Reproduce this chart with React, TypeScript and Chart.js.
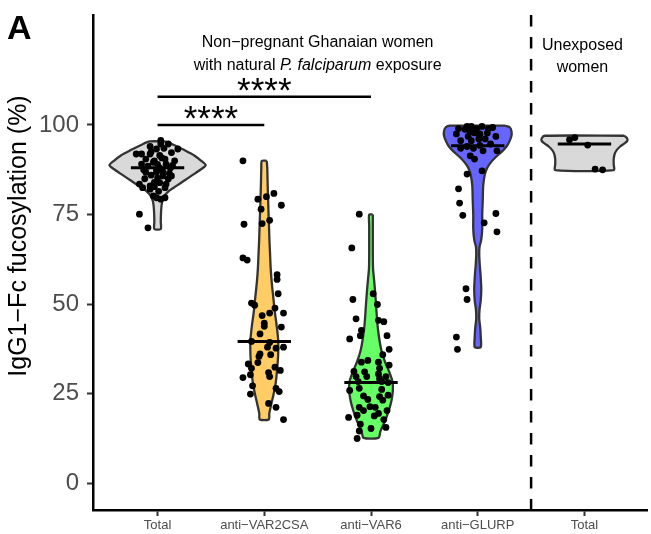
import React, { useEffect, useRef } from 'react';
import { Chart, registerables } from 'chart.js';

Chart.register(...registerables);

const FONT = "'Liberation Sans', Arial, Helvetica, sans-serif";

// ---- categories & axis ----
const categories = ['Total', 'anti−VAR2CSA', 'anti−VAR6', 'anti−GLURP', 'Total'];
const yTicks = [0, 25, 50, 75, 100];
const medians = [88.1, 39.6, 28.1, 94.2, 94.7];
const violinFills = ['#D9D9D9', '#FFCC66', '#66FF66', '#6666FF', '#D9D9D9'];

// ---- violin density profiles (levels in %, half-widths in category units) ----
const totalLevels = [95.4, 94.5, 93, 91.5, 90, 88.8, 87.5, 86, 84.5, 83, 81.5, 80, 78.5, 76, 73, 71];
const totalWidths = [0.074, 0.149, 0.251, 0.344, 0.409, 0.451, 0.4, 0.326, 0.251, 0.177, 0.102, 0.06, 0.042, 0.033, 0.03, 0.03];
const var2Levels = [90, 88, 84, 80, 76, 72, 68, 64, 60, 56, 52, 48, 44, 40, 36, 32, 28, 25, 22, 19.5, 17.8];
const var2Widths = [0.023, 0.028, 0.031, 0.035, 0.039, 0.044, 0.048, 0.054, 0.06, 0.07, 0.084, 0.098, 0.116, 0.13, 0.13, 0.121, 0.107, 0.088, 0.065, 0.047, 0.042];
const var6Levels = [75, 72, 68, 64, 60, 57, 54, 50, 46, 43, 40, 37, 34, 31, 28.5, 26, 23, 20, 17, 14.5, 12.7];
const var6Widths = [0.017, 0.017, 0.017, 0.017, 0.019, 0.028, 0.037, 0.047, 0.056, 0.065, 0.079, 0.098, 0.13, 0.172, 0.2, 0.205, 0.191, 0.163, 0.126, 0.088, 0.07];
const glurpLevels = [99.8, 99.3, 98.3, 97, 95.5, 94, 92.5, 91, 89.5, 88, 86, 83, 79, 75, 71, 68, 66, 64, 61, 57.5, 54, 51, 48.5, 46, 43.5, 41, 38];
const glurpWidths = [0.26, 0.302, 0.316, 0.316, 0.298, 0.27, 0.223, 0.167, 0.121, 0.088, 0.065, 0.051, 0.047, 0.042, 0.042, 0.033, 0.017, 0.014, 0.019, 0.028, 0.033, 0.028, 0.017, 0.014, 0.023, 0.028, 0.028];
const unexpLevels = [97, 96.3, 95.5, 94.8, 94, 93, 92, 90.5, 89, 87.4];
const unexpWidths = [0.372, 0.4, 0.4, 0.372, 0.335, 0.302, 0.284, 0.274, 0.274, 0.274];

// ---- individual observations (value %, horizontal jitter in category units) ----
const totalValues = [95.7, 94.7, 94.7, 93.3, 93.3, 91.9, 91.9, 91.9, 92.3, 91.5, 90.5, 90, 89.1, 89.6, 89.1, 88.7, 88.5, 88, 87.5, 87, 86.8, 86.8, 86.5, 86, 85.8, 85.8, 85.2, 85, 84.9, 83.9, 83.5, 84, 83, 82.5, 82.1, 82.5, 80.2, 79.7, 79.3, 79.7, 75.1, 71.3, 90.8, 92.5, 89, 90, 87.5, 83.5, 81.5, 94, 88, 82.8, 93.5, 90.5];
const totalJitter = [0.03, 0.03, 0.1, 0.19, -0.01, -0.2, -0.15, -0.07, 0.13, 0.02, 0.07, -0.03, -0.15, -0.04, 0.08, 0.14, -0.09, 0.02, -0.01, 0.05, -0.11, -0.01, 0.11, -0.06, 0.05, 0.13, 0, -0.12, 0.1, 0.02, -0.17, -0.03, -0.07, -0.14, -0.07, 0.07, -0.04, -0.01, 0.03, 0.07, -0.17, -0.09, 0.04, -0.06, 0, 0.16, -0.13, 0.08, 0.01, -0.07, 0.12, -0.03, 0.06, -0.11];
const var2Values = [90, 80.9, 79.3, 80, 77.6, 76.5, 73.4, 72.5, 72.3, 62.9, 62.3, 58.2, 56.9, 52.9, 50.3, 49.7, 48.9, 47.5, 47.5, 46.8, 44.7, 43.8, 43.6, 41.7, 39.6, 39.3, 38, 37.7, 38, 36.1, 35.4, 35.9, 33.7, 33.3, 32.1, 32.4, 31.5, 30.9, 29.8, 29.5, 30.3, 27.2, 26.5, 25.6, 24.9, 22.3, 21.2, 17.8];
const var2Jitter = [-0.2, 0.09, -0.06, 0.02, 0.16, -0.03, 0.05, -0.02, -0.19, -0.2, -0.16, 0.12, 0.12, 0.13, -0.12, -0.09, 0.1, 0.05, 0.18, -0.02, 0, 0, 0.16, -0.04, -0.12, 0.05, 0.03, 0.11, 0.18, -0.04, -0.05, 0.06, -0.06, -0.15, -0.12, 0.1, 0.15, 0.04, 0.05, -0.2, -0.13, -0.11, 0.11, 0.14, -0.13, 0.04, 0.11, 0.18];
const var6Values = [75.1, 65.7, 52.9, 49.9, 51.3, 45.9, 45.5, 45.1, 42.7, 41.2, 40.3, 41.2, 37.4, 35.9, 33.8, 34.3, 33.8, 33, 31.2, 29.8, 30.5, 29.8, 28.4, 28.4, 28.1, 25.9, 26.5, 26.2, 24.4, 23.4, 24.2, 24.6, 21.2, 20.3, 21.2, 19.5, 20.3, 18.4, 19, 17.8, 16.5, 15.6, 15.3, 14.6, 12.5, 32.1, 18.8, 29.2, 23.2, 29.8, 21.4, 31.1];
const var6Jitter = [-0.11, -0.18, 0.02, 0.06, -0.17, -0.14, 0.07, 0.12, -0.09, -0.1, -0.2, 0.15, 0.17, 0.11, -0.09, -0.03, 0.07, 0.17, -0.16, -0.04, 0.07, 0.14, -0.12, 0.1, 0.16, -0.2, -0.11, 0.1, -0.07, -0.03, 0.08, 0.16, -0.11, -0.07, 0.04, 0.07, 0.15, -0.21, -0.13, 0.12, -0.1, 0.14, 0, -0.11, -0.13, 0.08, 0.03, 0.08, 0.11, -0.14, -0.01, -0.06];
const glurpValues = [99, 99.6, 99.6, 99, 99.6, 99.3, 97.5, 98.1, 97.8, 97.5, 97.8, 96.8, 95.6, 95.6, 96.1, 96.1, 93.5, 93.5, 92.8, 92.8, 91.4, 90.5, 86.3, 87.2, 82.2, 78.2, 74.8, 75.3, 72.7, 70.2, 54.3, 51.3, 40.8, 37.4, 98.8, 99, 96.8, 94.7, 94, 94.3];
const glurpJitter = [-0.18, -0.1, -0.06, -0.01, 0.04, 0.14, -0.2, -0.07, -0.03, 0.02, 0.09, 0.17, -0.16, -0.06, 0.01, 0.07, -0.16, -0.04, 0.05, 0.18, -0.07, -0.03, -0.1, 0.04, -0.18, -0.17, -0.14, 0.17, 0.06, 0.18, -0.11, -0.1, -0.2, -0.19, -0.12, 0.1, -0.09, 0.12, -0.1, 0.02];
const unexpValues = [95.9, 96.5, 94.4, 87.7, 87.5];
const unexpJitter = [-0.14, -0.09, 0.03, 0.1, 0.17];

// ---- significance brackets ----
const sigFrom = [0, 0];
const sigTo = [2, 1];
const sigLevel = [107.9, 100];
const sigText = ['****', '****'];

const profiles = [
  [totalLevels, totalWidths],
  [var2Levels, var2Widths],
  [var6Levels, var6Widths],
  [glurpLevels, glurpWidths],
  [unexpLevels, unexpWidths],
];
const observations = [
  [totalValues, totalJitter],
  [var2Values, var2Jitter],
  [var6Values, var6Jitter],
  [glurpValues, glurpJitter],
  [unexpValues, unexpJitter],
];

const Y_MIN = -7.45;
const Y_MAX = 130.7;
const X_MIN = -0.605;
const X_MAX = 4.586;

function violinOutline(center: number, levels: number[], widths: number[]) {
  const right = levels.map((v, i) => ({ x: center + widths[i], y: v }));
  const left = levels.map((v, i) => ({ x: center - widths[i], y: v })).reverse();
  const pts = [...right, ...left];
  pts.push({ ...pts[0] });
  return pts;
}

const annotPlugin = {
  id: 'annot',
  afterDraw(chart: any) {
    const { ctx } = chart;
    const xs = chart.scales.x;
    const ys = chart.scales.y;
    ctx.save();
    ctx.fillStyle = '#000';
    ctx.textAlign = 'center';
    ctx.textBaseline = 'alphabetic';

    // significance stars
    ctx.font = `35px ${FONT}`;
    sigFrom.forEach((f, i) => {
      const cx = (xs.getPixelForValue(f) + xs.getPixelForValue(sigTo[i])) / 2;
      ctx.fillText(sigText[i], cx, ys.getPixelForValue(sigLevel[i]) + 5);
    });

    // group headers
    ctx.font = `16px ${FONT}`;
    const gx = xs.getPixelForValue(1.5);
    ctx.fillText('Non−pregnant Ghanaian women', gx, 46.5);
    const parts = [
      { t: 'with natural ', it: false },
      { t: 'P. falciparum', it: true },
      { t: ' exposure', it: false },
    ];
    let total = 0;
    parts.forEach((p) => {
      ctx.font = `${p.it ? 'italic ' : ''}16px ${FONT}`;
      total += ctx.measureText(p.t).width;
    });
    let px = gx - total / 2;
    ctx.textAlign = 'left';
    parts.forEach((p) => {
      ctx.font = `${p.it ? 'italic ' : ''}16px ${FONT}`;
      ctx.fillText(p.t, px, 70);
      px += ctx.measureText(p.t).width;
    });
    ctx.textAlign = 'center';
    ctx.font = `16px ${FONT}`;
    const ux = xs.getPixelForValue(4) - 2;
    ctx.fillText('Unexposed', ux, 50);
    ctx.fillText('women', ux, 72);

    // panel letter
    ctx.textAlign = 'left';
    ctx.font = `bold 34px ${FONT}`;
    ctx.fillText('A', 7, 39);

    // y axis title
    ctx.translate(19, 236);
    ctx.rotate(-Math.PI / 2);
    ctx.textAlign = 'center';
    ctx.textBaseline = 'middle';
    ctx.font = `25px ${FONT}`;
    ctx.fillText('IgG1−Fc fucosylation (%)', 0, 0);
    ctx.restore();
  },
};

export default function App() {
  const canvasRef = useRef<HTMLCanvasElement | null>(null);

  useEffect(() => {
    if (!canvasRef.current) return;
    Chart.defaults.font.family = FONT;

    const datasets: any[] = [];
    profiles.forEach(([levels, widths], i) => {
      datasets.push({
        type: 'line',
        data: violinOutline(i, levels, widths),
        backgroundColor: violinFills[i],
        borderColor: '#333333',
        borderWidth: 2.3,
        borderJoinStyle: 'round',
        fill: 'shape',
        tension: 0.25,
        pointRadius: 0,
        order: 30,
      });
    });
    observations.forEach(([vals, jit], i) => {
      datasets.push({
        type: 'line',
        data: vals.map((v, k) => ({ x: i + jit[k], y: v })),
        showLine: false,
        pointRadius: 3.4,
        pointBackgroundColor: '#000',
        pointBorderWidth: 0,
        order: 20,
      });
    });
    medians.forEach((m, i) => {
      datasets.push({
        type: 'line',
        data: [{ x: i - 0.25, y: m }, { x: i + 0.25, y: m }],
        borderColor: '#000',
        borderWidth: 3,
        pointRadius: 0,
        fill: false,
        order: 10,
      });
    });
    sigFrom.forEach((f, i) => {
      datasets.push({
        type: 'line',
        data: [{ x: f, y: sigLevel[i] }, { x: sigTo[i], y: sigLevel[i] }],
        borderColor: '#000',
        borderWidth: 2.5,
        pointRadius: 0,
        fill: false,
        order: 5,
      });
    });
    datasets.push({
      type: 'line',
      data: [{ x: 3.5, y: Y_MAX }, { x: 3.5, y: Y_MIN }],
      borderColor: '#000',
      borderWidth: 2.5,
      borderDash: [11.5, 10.5],
      pointRadius: 0,
      fill: false,
      order: 5,
    });

    const chart = new Chart(canvasRef.current, {
      type: 'line',
      data: { datasets },
      options: {
        animation: false,
        responsive: false,
        events: [],
        layout: { padding: { top: 15, left: 0, right: 0, bottom: 0 } },
        plugins: { legend: { display: false }, tooltip: { enabled: false } },
        scales: {
          x: {
            type: 'linear',
            min: X_MIN,
            max: X_MAX,
            afterBuildTicks: (s: any) => {
              s.ticks = categories.map((_, i) => ({ value: i }));
            },
            afterFit: (s: any) => {
              s.height = 24;
              s.paddingLeft = 0;
              s.paddingRight = 0;
            },
            ticks: {
              callback: (v: any) => categories[v],
              font: { size: 13, family: FONT },
              color: '#4D4D4D',
              padding: 2,
              maxRotation: 0,
              autoSkip: false,
            },
            grid: {
              drawOnChartArea: false,
              drawTicks: true,
              tickLength: 6,
              tickColor: '#333333',
              tickWidth: 2,
            },
            border: { display: true, color: '#000', width: 2.5 },
          },
          y: {
            type: 'linear',
            min: Y_MIN,
            max: Y_MAX,
            afterBuildTicks: (s: any) => {
              s.ticks = yTicks.map((v) => ({ value: v }));
            },
            afterFit: (s: any) => {
              s.width = 93;
              s.paddingTop = 0;
              s.paddingBottom = 0;
            },
            ticks: {
              font: { size: 24, family: FONT },
              color: '#4D4D4D',
              padding: 8,
            },
            grid: {
              drawOnChartArea: false,
              drawTicks: true,
              tickLength: 6,
              tickColor: '#333333',
              tickWidth: 2,
            },
            border: { display: true, color: '#000', width: 2.5 },
          },
        },
      },
      plugins: [annotPlugin],
    });
    return () => chart.destroy();
  }, []);

  return (
    <div style={{ position: 'fixed', left: 0, top: 0, width: 651, height: 534, background: '#fff' }}>
      <canvas ref={canvasRef} width={651} height={534} style={{ display: 'block' }} />
    </div>
  );
}
